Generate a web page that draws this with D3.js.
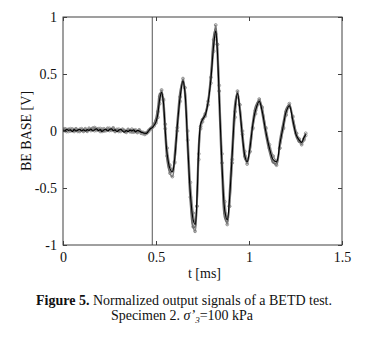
<!DOCTYPE html>
<html><head><meta charset="utf-8">
<script src="https://cdn.jsdelivr.net/npm/d3@7"></script>
<style>body{margin:0;background:#fff}svg{display:block}</style>
</head><body>
<svg id="c" width="368" height="337"></svg>
<script>
const xTicks = [0, 0.5, 1, 1.5];
const yTicks = [-1, -0.5, 0, 0.5, 1];
const xTickLabels = ["0", "0.5", "1", "1.5"];
const yTickLabels = ["-1", "-0.5", "0", "0.5", "1"];
const markerT = 0.48;

const tNoise = [0,0.01,0.02,0.03,0.04,0.05,0.06,0.07,0.08,0.09,0.10,0.11,0.12,0.13,0.14,0.15,0.16,0.17,0.18,0.19,0.20,0.21,0.22,0.23,0.24,0.25,0.26,0.27,0.28,0.29,0.30,0.31,0.32,0.33,0.34,0.35,0.36,0.37,0.38,0.39,0.40,0.41,0.42,0.43,0.44];
const tWave = [0.45,0.46,0.47,0.48,0.49,0.50,0.51,0.52,0.53,0.54,0.55,0.56,0.575,0.588,0.60,0.615,0.63,0.645,0.655,0.67,0.685,0.70,0.71,0.72,0.73,0.74,0.75,0.765,0.78,0.795,0.81,0.821,0.83,0.84,0.855,0.87,0.883,0.895,0.91,0.925,0.938,0.95,0.965,0.978,0.99,1.005,1.02,1.035,1.055,1.07,1.09,1.11,1.13,1.148,1.165,1.185,1.20,1.217,1.235,1.255,1.27,1.283,1.295,1.305];

const blackNoise = [0.01,0.00,0.015,0.005,0.01,-0.005,0.012,0.0,0.008,0.015,0.002,0.01,0.0,0.012,0.005,0.018,0.0,0.01,0.02,0.005,0.012,-0.005,0.01,0.015,0.0,0.012,0.02,0.005,0.01,-0.005,0.008,0.015,0.0,-0.01,0.005,-0.005,0.008,0.0,0.01,-0.008,0.005,0.0,-0.01,-0.015,-0.02];
const blackWave = [-0.02,0.0,0.02,0.03,0.05,0.08,0.15,0.28,0.34,0.25,0.0,-0.2,-0.33,-0.36,-0.25,0.05,0.3,0.44,0.35,-0.1,-0.55,-0.78,-0.82,-0.6,-0.15,0.06,0.1,0.14,0.25,0.45,0.75,0.88,0.7,0.3,-0.3,-0.7,-0.78,-0.6,-0.2,0.2,0.33,0.2,-0.05,-0.22,-0.27,-0.15,0.05,0.18,0.26,0.18,0.0,-0.15,-0.25,-0.27,-0.12,0.05,0.17,0.22,0.1,-0.04,-0.08,-0.1,-0.06,-0.03];

const grayANoise = [0.005,0.02,-0.005,0.015,0.0,0.018,-0.004,0.02,0.005,-0.004,0.02,0.0,0.016,-0.003,0.024,0.004,0.02,0.03,0.006,0.02,-0.004,0.016,0.0,0.01,0.024,0.004,0.012,0.028,-0.003,0.014,-0.004,0.006,0.016,-0.004,-0.012,0.012,-0.006,0.016,-0.01,0.01,-0.01,0.01,-0.02,-0.012,-0.03];
const grayAWave = [-0.015,0.005,0.02,0.035,0.06,0.09,0.17,0.3,0.36,0.27,0.02,-0.22,-0.37,-0.4,-0.28,0.03,0.3,0.46,0.38,-0.08,-0.58,-0.84,-0.88,-0.66,-0.2,0.04,0.1,0.15,0.26,0.47,0.8,0.93,0.76,0.35,-0.28,-0.72,-0.82,-0.66,-0.25,0.17,0.35,0.23,-0.03,-0.22,-0.29,-0.18,0.03,0.18,0.28,0.21,0.02,-0.15,-0.27,-0.3,-0.15,0.03,0.17,0.24,0.13,-0.02,-0.09,-0.12,-0.07,-0.02];

const grayBNoise = [0.016,0.002,0.014,-0.004,0.02,0.002,0.012,0.014,-0.004,0.016,0.01,-0.004,0.02,0.002,0.014,0.016,0.026,0.002,0.02,0.012,0.022,-0.004,0.02,0.002,0.014,0.024,0.006,0.02,-0.004,0.006,0.016,-0.004,0.01,0.006,-0.004,0.014,-0.002,-0.01,0.008,-0.004,-0.014,0.006,-0.008,-0.024,-0.018];
const grayBWave = [-0.02,-0.005,0.015,0.03,0.045,0.07,0.12,0.24,0.32,0.28,0.06,-0.15,-0.3,-0.34,-0.27,0.0,0.26,0.42,0.38,0.0,-0.45,-0.72,-0.8,-0.66,-0.25,0.02,0.08,0.13,0.23,0.42,0.7,0.85,0.76,0.4,-0.2,-0.62,-0.76,-0.66,-0.28,0.12,0.3,0.23,0.0,-0.18,-0.25,-0.18,0.02,0.15,0.24,0.2,0.03,-0.12,-0.22,-0.26,-0.15,0.02,0.14,0.21,0.12,-0.02,-0.07,-0.1,-0.08,-0.04];

const grayCNoise = [0.0,0.01,0.008,0.018,0.005,0.0,0.015,0.005,0.012,0.008,0.0,0.015,0.005,0.0,0.012,0.008,0.01,0.015,0.012,0.0,0.008,0.01,0.0,0.012,0.008,0.015,0.012,0.0,0.015,0.008,0.0,0.01,0.005,0.008,-0.005,0.0,0.01,0.005,-0.002,0.0,0.002,-0.008,-0.005,-0.012,-0.022];
const grayCWave = [-0.01,0.01,0.025,0.04,0.07,0.12,0.22,0.33,0.33,0.18,-0.08,-0.27,-0.36,-0.35,-0.18,0.12,0.36,0.45,0.3,-0.2,-0.65,-0.85,-0.84,-0.5,-0.08,0.07,0.11,0.16,0.28,0.52,0.84,0.9,0.62,0.18,-0.42,-0.77,-0.8,-0.52,-0.1,0.26,0.34,0.16,-0.1,-0.25,-0.27,-0.1,0.09,0.22,0.27,0.15,-0.04,-0.19,-0.28,-0.28,-0.08,0.09,0.2,0.23,0.07,-0.06,-0.1,-0.1,-0.05,-0.02];

const times = tNoise.concat(tWave);
const series = [
  {name: "grayA", color: "#7a7a7a", w: 1.5, marks: true, v: grayANoise.concat(grayAWave)},
  {name: "grayB", color: "#8a8a8a", w: 1.5, marks: true, v: grayBNoise.concat(grayBWave)},
  {name: "grayC", color: "#6e6e6e", w: 1.4, marks: false, v: grayCNoise.concat(grayCWave)},
  {name: "black", color: "#000", w: 1.1, marks: false, v: blackNoise.concat(blackWave)}
];

const svg = d3.select("#c");
const L = 63, R = 342, T = 17, B = 245;
const x = d3.scaleLinear().domain([0, 1.5]).range([L, R]);
const y = d3.scaleLinear().domain([-1, 1]).range([B, T]);
const font = "'Liberation Serif', 'Times New Roman', serif";
const axisColor = "#404040";

svg.append("defs").append("clipPath").attr("id", "clip")
  .append("rect").attr("x", L).attr("y", T).attr("width", R - L).attr("height", B - T);

svg.append("line").attr("x1", x(markerT)).attr("x2", x(markerT))
  .attr("y1", T).attr("y2", B).attr("stroke", "#555").attr("stroke-width", 1);

const line = d3.line().x(d => x(d[0])).y(d => y(d[1])).curve(d3.curveCatmullRom.alpha(0.5));
const g = svg.append("g").attr("clip-path", "url(#clip)");
series.forEach(s => {
  const pts = times.map((t, i) => [t, s.v[i]]);
  g.append("path").datum(pts)
    .attr("d", line).attr("fill", "none")
    .attr("stroke", s.color).attr("stroke-width", s.w).attr("stroke-linejoin", "round");
  if (s.marks) {
    g.selectAll(null).data(pts).enter().append("circle")
      .attr("cx", d => x(d[0])).attr("cy", d => y(d[1])).attr("r", 1.4)
      .attr("fill", "none").attr("stroke", s.color).attr("stroke-width", 0.8);
  }
});

const ax = (gen, tr, labels) => {
  const a = svg.append("g").attr("transform", tr).call(gen);
  a.select(".domain").remove();
  a.selectAll("line").attr("stroke", axisColor);
  a.selectAll("text").attr("fill", "#111").style("font-family", font).style("font-size", "14px");
  if (!labels) a.selectAll("text").remove();
  return a;
};
ax(d3.axisBottom(x).tickValues(xTicks).tickFormat((d, i) => xTickLabels[i]).tickSizeInner(-4).tickPadding(7), `translate(0,${B})`, true);
ax(d3.axisTop(x).tickValues(xTicks).tickSizeInner(-4), `translate(0,${T})`, false);
ax(d3.axisLeft(y).tickValues(yTicks).tickFormat((d, i) => yTickLabels[i]).tickSizeInner(-4).tickPadding(6), `translate(${L},0)`, true);
ax(d3.axisRight(y).tickValues(yTicks).tickSizeInner(-4), `translate(${R},0)`, false);

svg.append("rect").attr("x", L).attr("y", T).attr("width", R - L).attr("height", B - T)
  .attr("fill", "none").attr("stroke", axisColor).attr("stroke-width", 1);

svg.append("text").attr("x", (L + R) / 2 + 2).attr("y", 278).attr("text-anchor", "middle")
  .style("font-family", font).style("font-size", "14px").attr("fill", "#111").text("t [ms]");
svg.append("text").attr("transform", `translate(31,${(T + B) / 2}) rotate(-90)`).attr("text-anchor", "middle")
  .style("font-family", font).style("font-size", "14px").attr("fill", "#111").text("BE BASE [V]");

const cap1 = svg.append("text").attr("x", 184).attr("y", 305).attr("text-anchor", "middle")
  .style("font-family", font).style("font-size", "14px").attr("fill", "#111");
cap1.append("tspan").attr("font-weight", "bold").text("Figure 5.");
cap1.append("tspan").text(" Normalized output signals of a BETD test.");
const cap2 = svg.append("text").attr("x", 182).attr("y", 320).attr("text-anchor", "middle")
  .style("font-family", font).style("font-size", "14px").attr("fill", "#111");
cap2.append("tspan").text("Specimen 2. ");
cap2.append("tspan").attr("font-style", "italic").text("σ’");
cap2.append("tspan").attr("font-style", "italic").attr("font-size", "9px").attr("dy", 3).text("3");
cap2.append("tspan").attr("dy", -3).text("=100 kPa");
</script>
</body></html>
